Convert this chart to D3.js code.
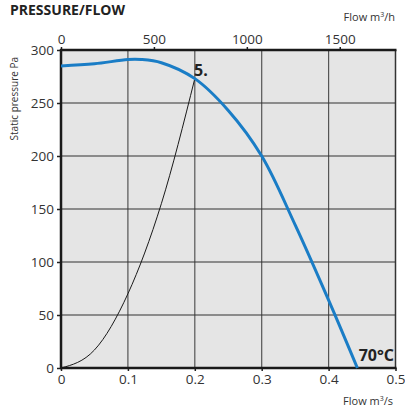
<!DOCTYPE html>
<html><head><meta charset="utf-8">
<script src="https://cdn.jsdelivr.net/npm/d3@7"></script>
<style>body{margin:0;background:#fff}text{font-family:"Open Sans",sans-serif}</style>
</head><body><svg id="c" width="405" height="410"></svg>
<script>
const fanFlow = [0, 0.05, 0.1, 0.12, 0.15, 0.2, 0.25, 0.3, 0.35, 0.4, 0.443];
const fanPressure = [285, 287, 291, 291, 288, 273, 243, 200, 135, 64, 0];
const sysFlow = [0, 0.05, 0.1, 0.15, 0.2];
const sysPressure = [0, 17, 70, 155, 273];
const xTicks = [0, 0.1, 0.2, 0.3, 0.4, 0.5];
const yTicks = [0, 50, 100, 150, 200, 250, 300];
const topTicks = [0, 500, 1000, 1500];

const svg = d3.select("#c");
const L = 61, R = 395.5, T = 50, B = 368;
const x = d3.scaleLinear().domain([0, 0.5]).range([L, R]);
const y = d3.scaleLinear().domain([0, 300]).range([B, T]);
const xh = d3.scaleLinear().domain([0, 1800]).range([L, L + (R - L) * 1800 / 3600 / 0.5]);

svg.append("rect").attr("x", L).attr("y", T).attr("width", R - L).attr("height", B - T).attr("fill", "#e5e5e5");

// grid
svg.append("g").selectAll("line").data(xTicks.slice(1, -1)).join("line")
  .attr("x1", d => x(d)).attr("x2", d => x(d)).attr("y1", T).attr("y2", B)
  .attr("stroke", "#555").attr("stroke-width", 1.2);
svg.append("g").selectAll("line").data(yTicks.slice(1, -1)).join("line")
  .attr("x1", L).attr("x2", R).attr("y1", d => y(d)).attr("y2", d => y(d))
  .attr("stroke", "#333").attr("stroke-width", 1.2);
svg.append("line").attr("x1", R).attr("x2", R).attr("y1", T).attr("y2", B).attr("stroke", "#333").attr("stroke-width", 1.5);

// axes
const fs = "13.5px";
const gl = svg.append("g").attr("transform", `translate(${L},0)`)
  .call(d3.axisLeft(y).tickValues(yTicks).tickSize(4).tickPadding(3));
const gb = svg.append("g").attr("transform", `translate(0,${B})`)
  .call(d3.axisBottom(x).tickValues(xTicks).tickFormat(d => d === 0 ? "0" : d3.format(".1f")(d)).tickSize(3).tickPadding(3));
const gt = svg.append("g").attr("transform", `translate(0,${T})`)
  .call(d3.axisTop(xh).tickValues(topTicks).tickFormat(d3.format("d")).tickSize(3).tickPadding(3));
[gl, gb, gt].forEach(g => {
  g.select(".domain").remove();
  g.selectAll("line").attr("stroke", "#222").attr("stroke-width", 1.5);
  g.selectAll("text").attr("fill", "#333").style("font-size", fs).style("font-family", "Open Sans");
});
svg.append("line").attr("x1", L).attr("x2", L).attr("y1", T - 1).attr("y2", B + 1).attr("stroke", "#1a1a1a").attr("stroke-width", 2.5);
svg.append("line").attr("x1", L - 1).attr("x2", R + 1).attr("y1", B).attr("y2", B).attr("stroke", "#1a1a1a").attr("stroke-width", 2.5);
svg.append("line").attr("x1", L - 1).attr("x2", R + 1).attr("y1", T).attr("y2", T).attr("stroke", "#1a1a1a").attr("stroke-width", 2.5);

// curves
const line = d3.line().curve(d3.curveMonotoneX);
svg.append("path").attr("d", line(sysFlow.map((f, i) => [x(f), y(sysPressure[i])])))
  .attr("fill", "none").attr("stroke", "#1a1a1a").attr("stroke-width", 1);
svg.append("path").attr("d", d3.line().curve(d3.curveCatmullRom)(fanFlow.map((f, i) => [x(f), y(fanPressure[i])])))
  .attr("fill", "none").attr("stroke", "#1a7dc6").attr("stroke-width", 3);

// labels
svg.append("text").attr("x", 194).attr("y", 76).attr("font-weight", "bold").style("font-size", "16px").attr("fill", "#222").text("5.");
svg.append("text").attr("x", 394).attr("y", 361).attr("text-anchor", "end").attr("font-weight", "bold").style("font-size", "16px").attr("fill", "#222").text("70°C");
svg.append("text").attr("x", 10).attr("y", 15).attr("font-weight", "bold").style("font-size", "14px").attr("fill", "#222").text("PRESSURE/FLOW");
svg.append("text").attr("transform", "translate(18,57) rotate(-90)").attr("text-anchor", "end").style("font-size", "10px").attr("fill", "#333").text("Static pressure Pa");
const t1 = svg.append("text").attr("x", 395).attr("y", 21).attr("text-anchor", "end").style("font-size", "11px").attr("fill", "#333");
t1.append("tspan").text("Flow m");
t1.append("tspan").attr("dy", -4).style("font-size", "7px").text("3");
t1.append("tspan").attr("dy", 4).text("/h");
const t2 = svg.append("text").attr("x", 393).attr("y", 405).attr("text-anchor", "end").style("font-size", "11px").attr("fill", "#333");
t2.append("tspan").text("Flow m");
t2.append("tspan").attr("dy", -4).style("font-size", "7px").text("3");
t2.append("tspan").attr("dy", 4).text("/s");
</script></body></html>
